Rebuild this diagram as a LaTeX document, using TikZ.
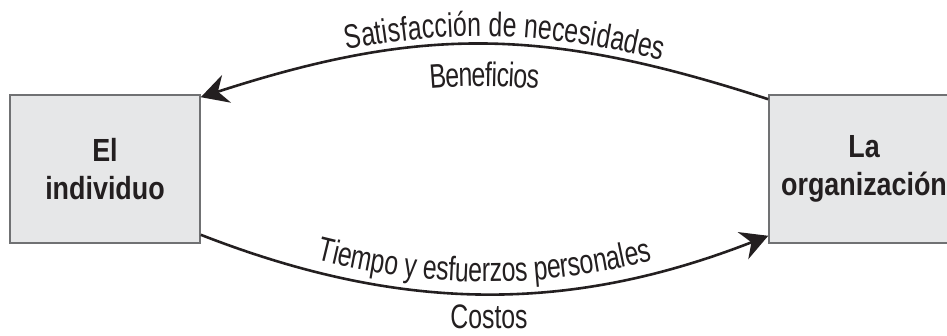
\documentclass[tikz,border=0pt]{standalone}
\usepackage{fontspec}
\setmainfont{Liberation Sans}
\newfontfamily\flowfamily[FakeStretch=0.73]{Liberation Sans}
\newfontfamily\boxfamily[FakeStretch=0.84]{Liberation Sans}
\usetikzlibrary{arrows.meta}
\usetikzlibrary{decorations.text}
\definecolor{boxGray}{HTML}{E6E7E8}
\definecolor{edgeGray}{HTML}{707173}
\definecolor{inkBlack}{HTML}{231F20}
\tikzset{>={Stealth[length=27pt,width=29pt,inset=9pt]}}
\tikzset{
  party/.style={draw=edgeGray, line width=1.6pt, fill=boxGray,
    minimum width=190pt, minimum height=148pt, inner sep=0pt,
    align=center, text=inkBlack, font=\boxfamily\fontsize{32}{38}\selectfont\bfseries},
  flow/.style={inkBlack, line width=2.6pt},
}
\newcommand\flowfont{\flowfamily\fontsize{34}{40}\selectfont}

\begin{document}
\begin{tikzpicture}[x=1pt, y=1pt]
    \useasboundingbox (0,0) rectangle (947,336);

    \node[party] (ind) at (105,167) {El\\individuo};
    \node[party] (org) at (864,167) {La\\organización};

    \coordinate (topL) at ([yshift=-3]ind.north east);
    \coordinate (topR) at ([yshift=-5]org.north west);
    \coordinate (botL) at ([yshift=9]ind.south east);
    \coordinate (botR) at ([yshift=8]org.south west);

    \draw[flow, ->] (topR) .. controls +(-222,72) and +(222,72) .. (topL);
    \draw[flow, ->] (botL) .. controls +(200,-78) and +(-200,-78) .. (botR);

    % labels along the arcs
    \path[decorate, decoration={text along path, text align={center, left indent=40pt}, raise=8pt,
      text={|\color{inkBlack}\flowfont|Satisfacción de necesidades}}]
      (topL) .. controls +(222,72) and +(-222,72) .. (topR);
    \path[decorate, decoration={text along path, text align=center, raise=-42pt,
      text={|\color{inkBlack}\flowfont|Beneficios}}]
      (topL) .. controls +(222,72) and +(-222,72) .. (topR);
    \path[decorate, decoration={text along path, text align=center, raise=12pt,
      text={|\color{inkBlack}\flowfont|Tiempo y esfuerzos personales}}]
      (botL) .. controls +(200,-78) and +(-200,-78) .. (botR);

    \node[anchor=base, text=inkBlack, font=\flowfont, inner sep=0pt] (cost) at (489,7) {Costos};
\end{tikzpicture}
\end{document}
